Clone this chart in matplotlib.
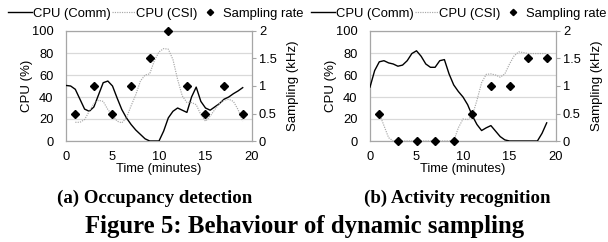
import matplotlib
matplotlib.use('Agg')
import matplotlib.pyplot as plt
from matplotlib.lines import Line2D

# --- data (CPU in %, sampling in kHz) ---
t_comm = [0, 0.5, 1, 1.5, 2, 2.5, 3, 3.5, 4, 4.5, 5, 5.5, 6, 6.5, 7, 7.5, 8, 8.5, 9, 9.5,
          10, 10.5, 11, 11.5, 12, 12.5, 13, 13.5, 14, 14.5, 15, 15.5, 16, 16.5, 17, 17.5, 18, 18.5, 19]
t_csi = t_comm[2:]

comm_a = [50.5, 50, 47, 38, 29, 27, 31, 42, 53, 54.5, 50, 39, 28.6, 21, 15, 10, 6, 2, 0, 0,
          0, 9, 21, 27, 30, 28, 26, 40, 49, 36, 30, 28, 31, 34, 38, 40, 43, 45.5, 48.5]
csi_a = [17, 17, 19.5, 27, 34, 37, 36, 28.6, 23.5, 18, 16.5, 21, 32, 42, 54.5, 60, 61, 73,
         81, 84, 83.5, 74, 56, 41, 35, 35, 33, 24, 18, 22.6, 28.6, 34, 37, 38, 36, 28.6, 18]

comm_b = [49, 64, 72, 73, 71, 70, 68, 69, 73, 79.5, 82, 77, 70, 67, 67, 73, 74, 61, 51, 45,
          40, 33, 23, 15, 9.5, 12, 14, 9, 4, 1, 0, 0, 0, 0, 0, 0, 0, 7, 16.5]
csi_b = [25, 14, 3, 0, 0, 0, 0, 0, 0, 0, 0, 0, 0, 0, 0, 0, 0, 12,
         20, 19.5, 23, 37, 53, 60.6, 61, 60, 58, 61, 70, 77.4, 81, 80.4, 79.5, 79.5, 79.5, 79.5, 79.5]

samp_t = [1, 3, 5, 7, 9, 11, 13, 15, 17, 19]
samp_a = [0.5, 1, 0.5, 1, 1.5, 2, 1, 0.5, 1, 0.5]
samp_b = [0.5, 0, 0, 0, 0, 0.5, 1, 1, 1.5, 1.5]

cpu_ticks = [0, 20, 40, 60, 80, 100]
samp_ticks = [0, 0.5, 1, 1.5, 2]
samp_labels = ['0', '0.5', '1', '1.5', '2']
time_ticks = [0, 5, 10, 15, 20]

# title, series, axes left edge (px), legend centre (px), caption centre (px)
panels = [
    ('(a) Occupancy detection', comm_a, csi_a, samp_a, 66, 156, 155),
    ('(b) Activity recognition', comm_b, csi_b, samp_b, 370, 459, 457),
]

plt.rcParams['font.family'] = ['Liberation Sans', 'DejaVu Sans']
W, H = 608, 242
fig = plt.figure(figsize=(W / 100, H / 100), dpi=100)

frame = '#a6a6a6'
grid = '#d9d9d9'
csi_col = '#a8a8a8'
fs = 9.3

for title, comm, csi, samp, x0, leg_x, cap_x in panels:
    ax = fig.add_axes([x0 / W, 1 - 141 / H, 186 / W, 110 / H])
    ax.set_xlim(0, 20)
    ax.set_ylim(0, 100)
    ax.set_yticks(cpu_ticks)
    ax.set_xticks(time_ticks)
    ax.yaxis.grid(True, color=grid, lw=0.9)
    ax.set_axisbelow(True)
    for s in ax.spines.values():
        s.set_color(frame)
        s.set_linewidth(0.9)
    ax.tick_params(axis='both', length=0, labelsize=fs)
    ax.tick_params(axis='y', pad=9)
    ax.tick_params(axis='x', pad=7)
    ax.set_ylabel('CPU (%)', fontsize=fs + 0.2, labelpad=-1)
    ax.set_xlabel('Time (minutes)', fontsize=fs, labelpad=0)

    ax.plot(t_comm, comm, color='black', lw=1.0, zorder=3)
    ax.plot(t_csi, csi, color=csi_col, lw=0.85, ls=(0, (1, 1)), zorder=3)

    ax2 = ax.twinx()
    ax2.set_ylim(0, 2)
    ax2.set_yticks(samp_ticks)
    ax2.set_yticklabels(samp_labels)
    for s in ax2.spines.values():
        s.set_visible(False)
    ax2.tick_params(axis='y', length=3, color=frame, labelsize=fs, pad=2)
    ax2.set_ylabel('Sampling (kHz)', fontsize=fs + 0.2, labelpad=7)
    ax2.plot(samp_t, samp, ls='none', marker='D', ms=3.6, color='black', clip_on=False, zorder=4)

    handles = [Line2D([], [], color='black', lw=1.0),
               Line2D([], [], color=csi_col, lw=0.85, ls=(0, (1, 1))),
               Line2D([], [], ls='none', marker='D', ms=3.2, color='black')]
    ax2.legend(handles, ['CPU (Comm)', 'CPU (CSI)', 'Sampling rate'], loc='center',
               bbox_to_anchor=(leg_x / W, 1 - 13.5 / H), bbox_transform=fig.transFigure,
               ncol=3, frameon=False, fontsize=fs + 0.1, handlelength=1.8,
               handletextpad=0.08, columnspacing=0.08, borderpad=0, borderaxespad=0)

    fig.text(cap_x / W, 1 - 203 / H, title, ha='center', va='baseline',
             family='Liberation Serif', weight='bold', fontsize=13.6)

fig.text(305 / W, 1 - 233 / H, 'Figure 5: Behaviour of dynamic sampling', ha='center',
         va='baseline', family='Liberation Serif', weight='bold', fontsize=17.8)

fig.savefig('out.png', dpi=100)
